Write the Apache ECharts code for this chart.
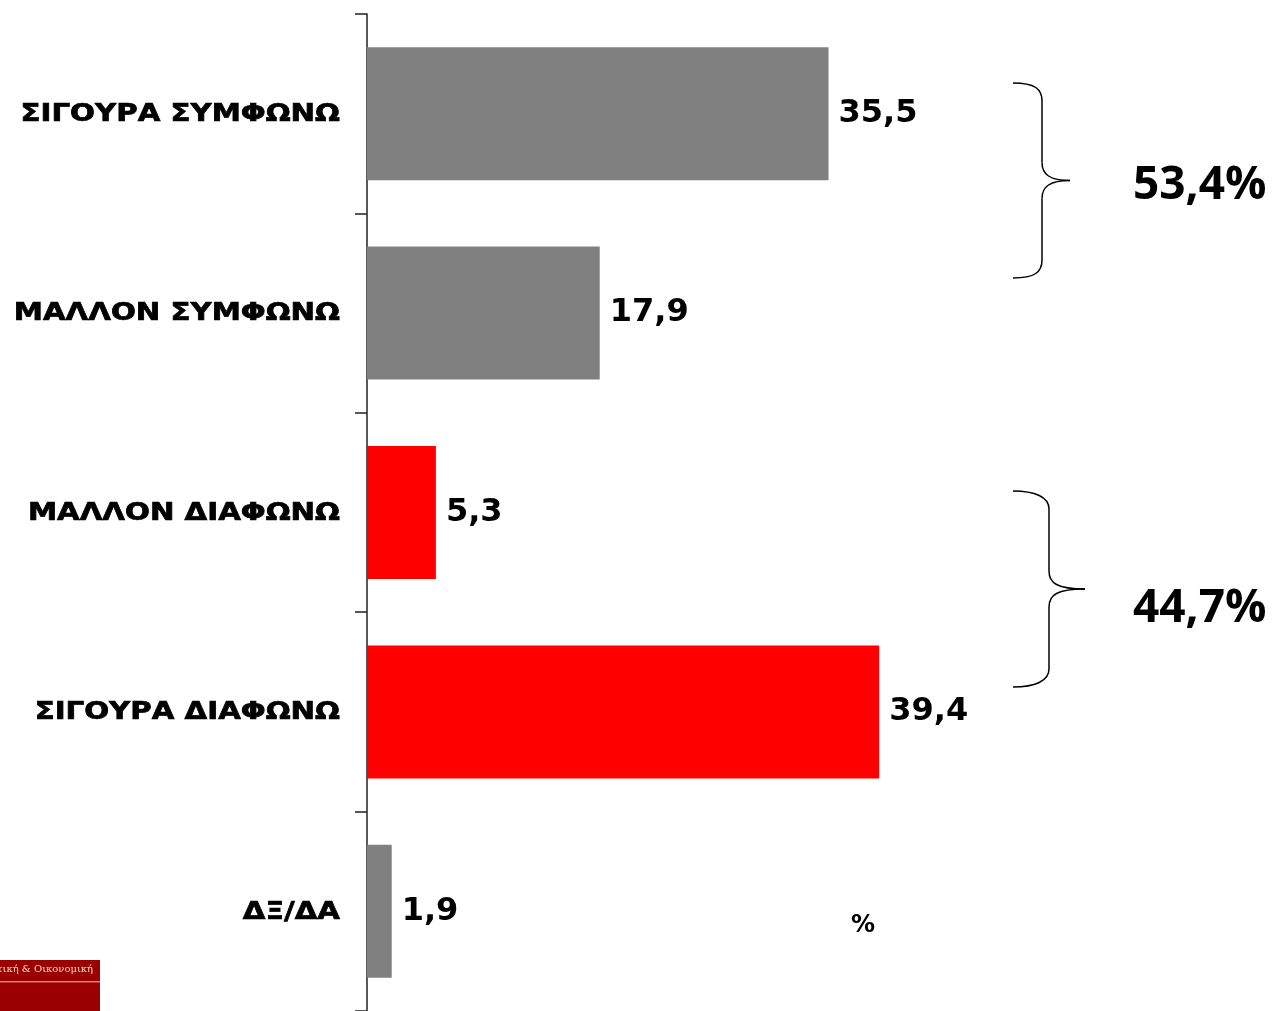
<!DOCTYPE html>
<html>
<head>
<meta charset="utf-8">
<script src="https://cdn.jsdelivr.net/npm/echarts@6/dist/echarts.min.js"></script>
<style>
html,body{margin:0;padding:0;background:#fff;}
#chart{width:1272px;height:1011px;}
</style>
</head>
<body>
<div id="chart"></div>
<script>
var categories = ["ΣΙΓΟΥΡΑ ΣΥΜΦΩΝΩ", "ΜΑΛΛΟΝ ΣΥΜΦΩΝΩ", "ΜΑΛΛΟΝ ΔΙΑΦΩΝΩ", "ΣΙΓΟΥΡΑ ΔΙΑΦΩΝΩ", "ΔΞ/ΔΑ"];
var values = [35.5, 17.9, 5.3, 39.4, 1.9];
var barColors = ["#808080", "#808080", "#ff0000", "#ff0000", "#808080"];
var groupTotals = ["53,4%", "44,7%"];
var unitLabel = "%";

var chart = echarts.init(document.getElementById('chart'));

function brace(x0, yTop, yBot, xMid, xTip) {
  var yc = (yTop + yBot) / 2;
  var r = 18;
  var st = { stroke: '#000', lineWidth: 1.5, fill: 'none' };
  function bz(x1, y1, c1x, c1y, c2x, c2y, x2, y2) {
    return { type: 'bezierCurve', shape: { x1: x1, y1: y1, cpx1: c1x, cpy1: c1y, cpx2: c2x, cpy2: c2y, x2: x2, y2: y2 }, style: st };
  }
  function ln(x1, y1, x2, y2) {
    return { type: 'line', shape: { x1: x1, y1: y1, x2: x2, y2: y2 }, style: st };
  }
  return [
    bz(x0, yTop, x0 + 22, yTop, xMid, yTop + 6, xMid, yTop + r),
    ln(xMid, yTop + r, xMid, yc - r),
    bz(xMid, yc - r, xMid, yc - 6, xMid + 8, yc, xTip, yc),
    bz(xTip, yc, xMid + 8, yc, xMid, yc + 6, xMid, yc + r),
    ln(xMid, yc + r, xMid, yBot - r),
    bz(xMid, yBot - r, xMid, yBot - 6, x0 + 22, yBot, x0, yBot)
  ];
}

var graphics = [].concat(
  brace(1013, 83, 278, 1042, 1070),
  brace(1013, 491, 687, 1049, 1085),
  [
    { type: 'text', left: 1133, top: 163, style: { text: groupTotals[0], fill: '#000', font: 'bold 46px "Open Sans", sans-serif' } },
    { type: 'text', left: 1133, top: 586, style: { text: groupTotals[1], fill: '#000', font: 'bold 46px "Open Sans", sans-serif' } },
    { type: 'text', left: 851, top: 914, style: { text: unitLabel, fill: '#000', font: 'bold 24px "DejaVu Sans", sans-serif' } },
    { type: 'rect', shape: { x: 0, y: 960, width: 100, height: 51 }, style: { fill: '#9a0000' } },
    { type: 'rect', shape: { x: 0, y: 981, width: 100, height: 1.5 }, style: { fill: '#d98080' } },
    { type: 'text', left: -3, top: 964, style: { text: 'τική & Οικονομική', fill: '#f2d9c0', font: '10px "DejaVu Serif", serif' } }
  ]
);

var option = {
  backgroundColor: '#ffffff',
  animation: false,
  grid: { left: 367, top: 14, width: 780, height: 1000 },
  xAxis: {
    type: 'value', min: 0, max: 60, show: false
  },
  yAxis: {
    type: 'category',
    data: categories,
    inverse: true,
    axisLine: { show: true, lineStyle: { color: '#222', width: 1.5 } },
    axisTick: { show: true, length: 12, lineStyle: { color: '#222', width: 1.5 } },
    axisLabel: { show: false },
    splitLine: { show: false }
  },
  series: [{
    type: 'bar',
    data: values.map(function (v, i) { return { value: v, itemStyle: { color: barColors[i] } }; }),
    barWidth: 133,
    label: {
      show: true,
      position: 'right',
      distance: 10,
      color: '#000',
      fontFamily: 'DejaVu Sans',
      fontWeight: 'bold',
      fontSize: 32,
      formatter: function (p) { return p.value.toFixed(1).replace('.', ','); }
    }
  }],
  graphic: graphics
};
chart.setOption(option);

// Category labels: real text, positioned from the category axis, widened like the original font
var labelGraphics = categories.map(function (c, i) {
  var y = chart.convertToPixel({ yAxisIndex: 0 }, c);
  return {
    type: 'text',
    x: 340, y: y + 1,
    scaleX: 1.22,
    style: { text: c, fill: '#000', stroke: '#000', lineWidth: 0.7, font: 'bold 24px "DejaVu Sans", sans-serif', align: 'right', verticalAlign: 'middle' }
  };
});
chart.setOption({ graphic: graphics.concat(labelGraphics) });
</script>
</body>
</html>
